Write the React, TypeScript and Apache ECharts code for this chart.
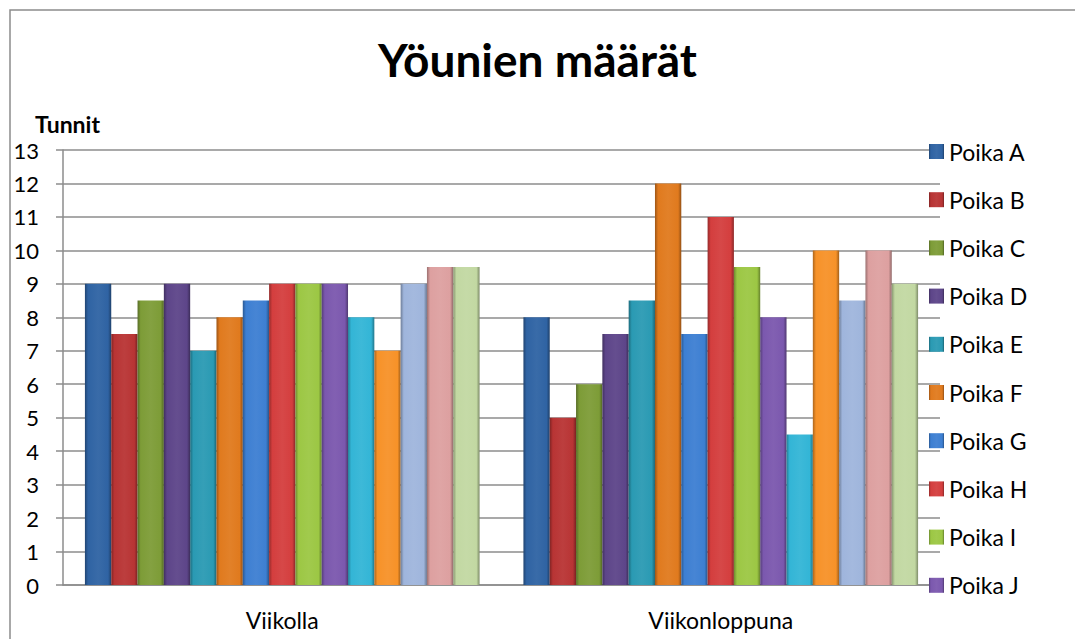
import React, { useEffect, useRef } from "react";
import * as echarts from "echarts";

const categories = ["Viikolla", "Viikonloppuna"];
const seriesNames = [
  "Poika A", "Poika B", "Poika C", "Poika D", "Poika E",
  "Poika F", "Poika G", "Poika H", "Poika I", "Poika J",
  "Poika K", "Poika L", "Poika M", "Poika N", "Poika O",
];
const weekValues = [9, 7.5, 8.5, 9, 7, 8, 8.5, 9, 9, 9, 8, 7, 9, 9.5, 9.5];
const weekendValues = [8, 5, 6, 7.5, 8.5, 12, 7.5, 11, 9.5, 8, 4.5, 10, 8.5, 10, 9];
const legendNames = seriesNames.slice(0, 10);
const colors = [
  "#2f63a3", "#b83434", "#7d9c37", "#5d4589", "#2a9ab3",
  "#e07a1e", "#3d7fd2", "#d43e3e", "#9cc744", "#7b58ae",
  "#33b5d6", "#f79228", "#9fb5dc", "#dda0a0", "#c2d8a2",
];

function shade(hex: string, f: number): string {
  const n = parseInt(hex.slice(1), 16);
  let r = (n >> 16) & 255, g = (n >> 8) & 255, b = n & 255;
  const adj = (c: number) =>
    Math.max(0, Math.min(255, Math.round(f < 0 ? c * (1 + f) : c + (255 - c) * f)));
  r = adj(r); g = adj(g); b = adj(b);
  return "#" + ((1 << 24) | (r << 16) | (g << 8) | b).toString(16).slice(1);
}

export default function App() {
  const ref = useRef<HTMLDivElement>(null);
  useEffect(() => {
    if (!ref.current) return;
    const chart = echarts.init(ref.current, null, { renderer: "svg" });
    const font = "Lato, 'Open Sans', sans-serif";
    const series = seriesNames.map((name, i) => ({
      name,
      type: "bar",
      data: [weekValues[i], weekendValues[i]],
      barGap: "0%",
      barCategoryGap: "10%",
      itemStyle: {
        color: new echarts.graphic.LinearGradient(0, 0, 1, 0, [
          { offset: 0, color: shade(colors[i], -0.3) },
          { offset: 0.12, color: colors[i] },
          { offset: 0.5, color: shade(colors[i], 0.05) },
          { offset: 0.88, color: colors[i] },
          { offset: 1, color: shade(colors[i], -0.35) },
        ]),
      },
    }));
    chart.setOption({
      animation: false,
      color: colors,
      title: {
        text: "Yöunien määrät",
        left: "center",
        top: 31,
        textStyle: { fontFamily: font, fontSize: 46, fontWeight: "bold", color: "#000" },
      },
      graphic: [
        {
          type: "rect",
          shape: { x: 10, y: 10, width: 1200, height: 800 },
          style: { fill: "none", stroke: "#8c8c8c", lineWidth: 1.5 },
          silent: true,
        },
        {
          type: "text",
          left: 35,
          top: 112,
          style: { text: "Tunnit", font: `bold 23px ${font}`, fill: "#000" },
        },
      ],
      legend: {
        data: legendNames,
        orient: "vertical",
        left: 924,
        top: 135,
        itemWidth: 15,
        itemHeight: 15,
        itemGap: 25.2,
        icon: "rect",
        textStyle: { fontFamily: font, fontSize: 23, color: "#000" },
      },
      grid: { left: 63, right: 135, top: 150, bottom: 54 },
      xAxis: {
        type: "category",
        data: categories,
        axisTick: { show: false },
        axisLine: { lineStyle: { color: "#8c8c8c", width: 1.5 } },
        axisLabel: { fontFamily: font, fontSize: 23, color: "#000", margin: 23 },
      },
      yAxis: {
        type: "value",
        min: 0,
        max: 13,
        interval: 1,
        axisLine: { show: true, lineStyle: { color: "#8c8c8c", width: 1.5 } },
        axisTick: { show: true, inside: false, length: 7, lineStyle: { color: "#8c8c8c", width: 1.5 } },
        splitLine: { lineStyle: { color: "#8c8c8c", width: 1.5 } },
        axisLabel: { fontFamily: font, fontSize: 22, color: "#000", margin: 24 },
      },
      series,
    });
    return () => chart.dispose();
  }, []);
  return (
    <div
      ref={ref}
      style={{ position: "fixed", left: 0, top: 0, width: 1075, height: 639, background: "#fff" }}
    />
  );
}
